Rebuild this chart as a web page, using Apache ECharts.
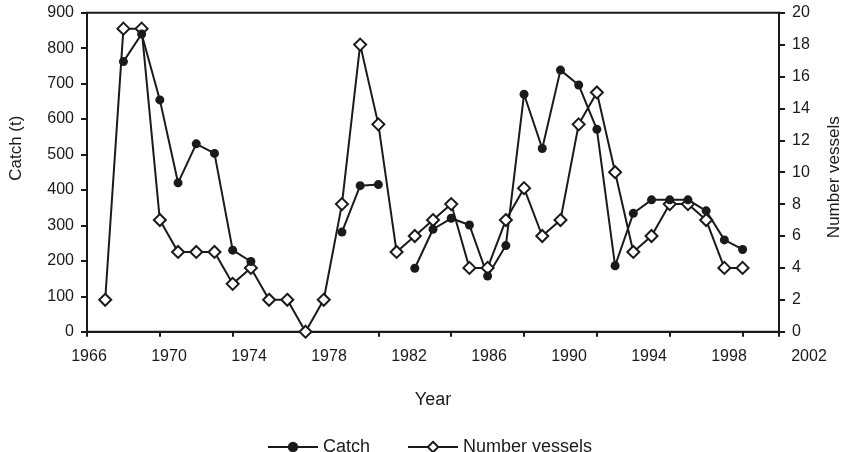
<!DOCTYPE html>
<html>
<head>
<meta charset="utf-8">
<script src="https://cdn.jsdelivr.net/npm/echarts@6/dist/echarts.min.js"></script>
<style>
  html, body { margin: 0; padding: 0; background: #fff; }
  #chart { width: 851px; height: 452px; }
</style>
</head>
<body>
<div id="chart"></div>
<script>
const years = [1967, 1968, 1969, 1970, 1971, 1972, 1973, 1974, 1975, 1976, 1977, 1978,
  1979, 1980, 1981, 1982, 1983, 1984, 1985, 1986, 1987, 1988, 1989, 1990,
  1991, 1992, 1993, 1994, 1995, 1996, 1997, 1998, 1999, 2000, 2001, 2002]
const catchT = [null, 762, 840, 654, 420, 530, 503, 230, 198, null, null, null,
  null, 281, 412, 415, null, 179, 289, 320, 301, 157, 243, 670,
  517, 738, 696, 571, 186, 334, 372, 372, 372, 341, 259, 232]
const vessels = [2, 19, 19, 7, 5, 5, 5, 3, 4, 2, 2, 0,
  2, 8, 18, 13, 5, 6, 7, 8, 4, 4, 7, 9,
  6, 7, 13, 15, 10, 5, 6, 8, 8, 7, 4, 4]
const yearLabels = [1966, 1970, 1974, 1978, 1982, 1986, 1990, 1994, 1998, 2002]

const ink = '#1a1a1a'
const font = 'Liberation Sans, Arial, sans-serif'

const myChart = echarts.init(document.getElementById('chart'))

const option = {
  animation: false,
  textStyle: { fontFamily: font, color: ink },
  grid: [
    { left: 86.5, right: 65.3, top: 12.7, bottom: 120.3, show: true, borderColor: ink, borderWidth: 2 },
    // labels only: the year labels are spread wider than the ticks
    { left: 89, right: 42, top: 12.7, bottom: 120.3 }
  ],
  legend: {
    data: ['Catch', 'Number vessels'],
    left: 262,
    top: 433,
    itemWidth: 50,
    itemHeight: 13,
    itemGap: 37,
    textStyle: { fontSize: 18, color: ink, fontFamily: font }
  },
  xAxis: [
    {
      type: 'value',
      gridIndex: 0,
      min: 1966,
      max: 2004,
      interval: 4,
      name: 'Year',
      nameLocation: 'middle',
      nameGap: 59,
      nameTextStyle: { fontSize: 18, color: ink },
      axisLine: { lineStyle: { color: ink, width: 2 } },
      axisTick: { length: 5, lineStyle: { color: ink, width: 2 } },
      axisLabel: { show: false },
      splitLine: { show: false }
    },
    {
      type: 'value',
      gridIndex: 1,
      min: yearLabels[0],
      max: yearLabels[yearLabels.length - 1],
      interval: 4,
      axisLine: { show: false },
      axisTick: { show: false },
      axisLabel: { fontSize: 16, color: ink, margin: 17, formatter: v => String(v) },
      splitLine: { show: false }
    }
  ],
  yAxis: [
    {
      type: 'value',
      gridIndex: 0,
      min: 0,
      max: 900,
      interval: 100,
      name: 'Catch (t)',
      nameLocation: 'middle',
      nameRotate: 90,
      nameGap: 62,
      nameTextStyle: { fontSize: 17, color: ink, padding: [0, 0, 0, 48] },
      axisLine: { show: true, lineStyle: { color: ink, width: 2 } },
      axisTick: { show: true, length: 6, lineStyle: { color: ink, width: 2 } },
      axisLabel: { fontSize: 16, color: ink, margin: 13 },
      splitLine: { show: false }
    },
    {
      type: 'value',
      gridIndex: 0,
      position: 'right',
      min: 0,
      max: 20,
      interval: 2,
      name: 'Number vessels',
      nameLocation: 'middle',
      nameRotate: 90,
      nameGap: 47,
      nameTextStyle: { fontSize: 17, color: ink, padding: [0, 10, 0, 0] },
      axisLine: { show: true, lineStyle: { color: ink, width: 2 } },
      axisTick: { show: true, length: 6, lineStyle: { color: ink, width: 2 } },
      axisLabel: { fontSize: 16, color: ink, margin: 13 },
      splitLine: { show: false }
    },
    { type: 'value', gridIndex: 1, min: 0, max: 1, show: false }
  ],
  series: [
    {
      name: 'Number vessels',
      type: 'line',
      xAxisIndex: 0,
      yAxisIndex: 1,
      data: years.map((y, i) => [y, vessels[i]]),
      symbol: 'diamond',
      symbolSize: 12,
      lineStyle: { color: ink, width: 2 },
      itemStyle: { color: '#fff', borderColor: ink, borderWidth: 2 }
    },
    {
      name: 'Catch',
      type: 'line',
      xAxisIndex: 0,
      yAxisIndex: 0,
      data: years.map((y, i) => [y, catchT[i] == null ? '-' : catchT[i]]),
      symbol: 'circle',
      symbolSize: 9,
      lineStyle: { color: ink, width: 2 },
      itemStyle: { color: ink, borderColor: ink, borderWidth: 0 }
    }
  ]
}

myChart.setOption(option)
</script>
</body>
</html>
